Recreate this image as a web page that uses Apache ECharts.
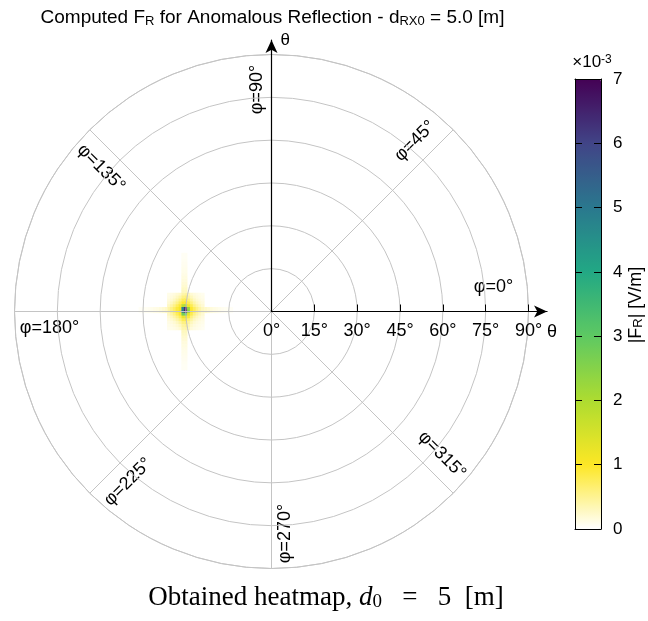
<!DOCTYPE html>
<html>
<head>
<meta charset="utf-8">
<script src="https://cdn.jsdelivr.net/npm/echarts@6/dist/echarts.min.js"></script>
<style>html,body{margin:0;padding:0;background:#fff}#c{width:648px;height:621px}</style>
</head>
<body>
<div id="c"></div>
<script>
// ---------------- data ----------------
const thetaTicks = [0, 15, 30, 45, 60, 75, 90];          // θ tick labels (deg)
const phiLabels = [0, 45, 90, 135, 180, 225, 270, 315];  // φ spoke labels (deg)
const colorbarTicks = [0, 1, 2, 3, 4, 5, 6, 7];          // ×10^-3 V/m

// heat cells: x = θ·cosφ, y = θ·sinφ (deg), values ×10^-3 V/m
const spotX = [-36, -35, -34, -33, -32, -31, -30, -29, -28, -27, -26, -25, -24];
const spotY = [6, 5, 4, 3, 2, 1, 0, -1, -2, -3, -4, -5, -6];
const spotValues = [
  [0.10, 0.12, 0.15, 0.20, 0.25, 0.40, 0.45, 0.30, 0.20, 0.15, 0.12, 0.10, 0.08],
  [0.12, 0.15, 0.20, 0.28, 0.38, 0.55, 0.60, 0.42, 0.30, 0.20, 0.15, 0.12, 0.10],
  [0.15, 0.20, 0.28, 0.40, 0.55, 0.75, 0.80, 0.60, 0.42, 0.28, 0.20, 0.15, 0.12],
  [0.20, 0.28, 0.40, 0.55, 0.75, 0.95, 1.00, 0.80, 0.58, 0.40, 0.28, 0.20, 0.15],
  [0.28, 0.40, 0.55, 0.75, 0.95, 1.80, 2.10, 1.10, 0.80, 0.55, 0.40, 0.28, 0.20],
  [0.40, 0.55, 0.70, 0.90, 1.10, 4.80, 6.90, 2.30, 0.95, 0.75, 0.55, 0.40, 0.30],
  [0.40, 0.55, 0.70, 0.90, 1.10, 5.00, 7.00, 2.50, 0.95, 0.75, 0.55, 0.40, 0.30],
  [0.28, 0.40, 0.55, 0.75, 0.95, 2.70, 3.00, 1.30, 0.80, 0.55, 0.40, 0.28, 0.20],
  [0.20, 0.28, 0.40, 0.55, 0.75, 1.20, 1.30, 0.90, 0.58, 0.40, 0.28, 0.20, 0.15],
  [0.15, 0.20, 0.28, 0.40, 0.55, 0.80, 0.85, 0.60, 0.42, 0.28, 0.20, 0.15, 0.12],
  [0.12, 0.15, 0.20, 0.28, 0.40, 0.58, 0.62, 0.45, 0.30, 0.20, 0.15, 0.12, 0.10],
  [0.10, 0.12, 0.15, 0.20, 0.28, 0.45, 0.48, 0.35, 0.22, 0.15, 0.12, 0.10, 0.08],
  [0.08, 0.10, 0.12, 0.15, 0.20, 0.38, 0.40, 0.28, 0.16, 0.12, 0.10, 0.08, 0.06]
];
// faint streaks leaving the spot (vertical: columns -31,-30; horizontal: rows 1,0)
const streakCols = [-31, -30];
const streakRows = [1, 0];
const streakVerticalY = [7, 8, 9, 10, 11, 12, 13, 14, 15, 16, 17, 18, 19, 20];
const streakVerticalValues = [0.30, 0.26, 0.22, 0.19, 0.16, 0.14, 0.12, 0.10, 0.09, 0.08, 0.07, 0.06, 0.05, 0.05];
const streakLeftX = [-37, -38, -39, -40, -41, -42, -43, -44, -45, -46];
const streakRightX = [-23, -22, -21, -20, -19, -18, -17, -16, -15, -14];
const streakHorizontalValues = [0.25, 0.20, 0.16, 0.13, 0.11, 0.09, 0.07, 0.06, 0.05, 0.04];

const colormap = ['#ffffff', '#fde725', '#addc30', '#5ec962', '#22a884', '#2a788e', '#414487', '#440154'];

// ---------------- layout ----------------
const CX = 271.5, CY = 311.5, R = 257, THETA_MAX = 90;
const pxPerDeg = R / THETA_MAX;
const X_AXIS_MAX = 96.5;
const Y_AXIS_TOP = 40;
const FONT = '"Liberation Sans", Arial, sans-serif';
const SERIF = '"Liberation Serif", "Times New Roman", serif';
const GRID_GRAY = '#c4c4c4';

const heatData = [];
spotY.forEach((y, i) => spotX.forEach((x, j) => heatData.push([x, y, spotValues[i][j]])));
streakVerticalY.forEach((y, k) => streakCols.forEach(x => {
  heatData.push([x, y, streakVerticalValues[k]]);
  heatData.push([x, -y, streakVerticalValues[k]]);
}));
streakHorizontalValues.forEach((v, k) => streakRows.forEach(y => {
  heatData.push([streakLeftX[k], y, v]);
  heatData.push([streakRightX[k], y, v]);
}));

const LABEL_R = 222;
function labelOffset(phi) {
  if (phi === 0) return 24;
  if (phi === 180) return 17;
  if (phi === 90 || phi === 270) return 14;
  return 19;
}
const phiGraphics = phiLabels.map(phi => {
  const a = phi * Math.PI / 180;
  const ux = Math.cos(a), uy = -Math.sin(a);
  const px = Math.cos(a + Math.PI / 2), py = -Math.sin(a + Math.PI / 2);
  let rot = phi % 180; if (rot > 90) rot -= 180;
  const off = labelOffset(phi);
  return {
    type: 'text', silent: true,
    x: CX + LABEL_R * ux + off * px,
    y: CY + LABEL_R * uy + off * py,
    rotation: rot * Math.PI / 180,
    style: { text: 'φ=' + phi + '°', font: '18px ' + FONT, fill: '#000', textAlign: 'center', textVerticalAlign: 'middle' }
  };
});

const blackLine = { color: '#000', width: 1 };

const option = {
  animation: false,
  polar: { center: [CX, CY], radius: R },
  angleAxis: {
    type: 'value', min: 0, max: 360, interval: 45, startAngle: 0, clockwise: false, z: 5,
    axisLine: { show: true, lineStyle: { color: GRID_GRAY, width: 1 } },
    axisTick: { show: false }, axisLabel: { show: false },
    splitLine: { show: true, lineStyle: { color: GRID_GRAY, width: 1 } }
  },
  radiusAxis: {
    type: 'value', min: 0, max: THETA_MAX, interval: 15, z: 5,
    axisLine: { show: false }, axisTick: { show: false }, axisLabel: { show: false },
    splitLine: { show: true, lineStyle: { color: GRID_GRAY, width: 1 } }
  },
  grid: [
    { left: CX - R, top: CY - R, width: 2 * R, height: 2 * R },
    { left: CX, top: Y_AXIS_TOP, width: X_AXIS_MAX * pxPerDeg, height: CY - Y_AXIS_TOP },
    { left: 575, top: 79, width: 26, height: 450 }
  ],
  xAxis: [
    { gridIndex: 0, type: 'value', min: -THETA_MAX, max: THETA_MAX, show: false },
    {
      gridIndex: 1, type: 'value', min: 0, max: X_AXIS_MAX, interval: 15, position: 'bottom', z: 10,
      axisLine: { show: true, onZero: false, symbol: ['none', 'arrow'], symbolSize: [9, 13], lineStyle: { color: '#000', width: 1.2 } },
      axisTick: { show: true, inside: true, length: 7, customValues: thetaTicks.slice(1), lineStyle: blackLine },
      axisLabel: { show: true, margin: 11, customValues: thetaTicks, color: '#000', fontSize: 18, fontFamily: FONT,
        formatter: v => (v % 15 === 0 ? v + '°' : '') },
      splitLine: { show: false },
      name: 'θ', nameLocation: 'end', nameGap: 5,
      nameTextStyle: { color: '#000', fontSize: 18, fontFamily: FONT, align: 'center', verticalAlign: 'top', padding: [12, 0, 0, 0] }
    },
    { gridIndex: 2, type: 'value', min: 0, max: 1, position: 'bottom', z: 10,
      axisLine: { show: true, onZero: false, lineStyle: blackLine }, axisTick: { show: false }, axisLabel: { show: false }, splitLine: { show: false } },
    { gridIndex: 2, type: 'value', min: 0, max: 1, position: 'top', z: 10,
      axisLine: { show: true, onZero: false, lineStyle: blackLine }, axisTick: { show: false }, axisLabel: { show: false }, splitLine: { show: false } }
  ],
  yAxis: [
    { gridIndex: 0, type: 'value', min: -THETA_MAX, max: THETA_MAX, show: false },
    {
      gridIndex: 1, type: 'value', min: 0, max: 1, position: 'left', z: 10,
      axisLine: { show: true, onZero: false, symbol: ['none', 'arrow'], symbolSize: [9, 13], lineStyle: { color: '#000', width: 1.2 } },
      axisTick: { show: false }, axisLabel: { show: false }, splitLine: { show: false },
      name: 'θ', nameLocation: 'end', nameGap: 0,
      nameTextStyle: { color: '#000', fontSize: 17, fontFamily: FONT, align: 'left', verticalAlign: 'middle', padding: [0, 0, 0, 9] }
    },
    { gridIndex: 2, type: 'value', min: 0, max: 7, interval: 1, position: 'left', z: 10,
      axisLine: { show: true, onZero: false, lineStyle: blackLine },
      axisTick: { show: true, inside: true, length: 7, lineStyle: blackLine },
      axisLabel: { show: false }, splitLine: { show: false } },
    { gridIndex: 2, type: 'value', min: 0, max: 7, interval: 1, position: 'right', z: 10,
      axisLine: { show: true, onZero: false, lineStyle: blackLine },
      axisTick: { show: true, inside: true, length: 7, lineStyle: blackLine },
      axisLabel: { show: true, margin: 12, color: '#000', fontSize: 17, fontFamily: FONT,
        customValues: colorbarTicks },
      splitLine: { show: false } }
  ],
  visualMap: {
    type: 'continuous', min: 0, max: 7, dimension: 2, seriesIndex: 0,
    calculable: false, hoverLink: false, orient: 'vertical',
    itemWidth: 26, itemHeight: 450, left: 575, top: 79, padding: 0,
    showLabel: false, text: null,
    inRange: { color: colormap }
  },
  series: [{
    type: 'scatter', xAxisIndex: 0, yAxisIndex: 0, data: heatData,
    symbol: 'rect', symbolSize: pxPerDeg + 0.4, silent: true, z: 1,
    itemStyle: { opacity: 1 }
  }],
  graphic: [
    {
      type: 'text', silent: true, x: CX + 1, y: 18,
      style: {
        text: '{m|Computed F}{s|R}{m| for Anomalous Reflection - d}{s|RX0}{m| = 5.0 [m]}',
        textAlign: 'center', textVerticalAlign: 'middle', fill: '#000',
        rich: {
          m: { fontSize: 19, fontFamily: FONT, lineHeight: 19, verticalAlign: 'top', padding: [0, 0, 5, 0], fill: '#000' },
          s: { fontSize: 13, fontFamily: FONT, lineHeight: 13, verticalAlign: 'bottom', fill: '#000' }
        }
      }
    },
    {
      type: 'text', silent: true, x: 592, y: 62,
      style: {
        text: '{m|×10}{p|-3}',
        textAlign: 'center', textVerticalAlign: 'middle', fill: '#000',
        rich: {
          m: { fontSize: 17, fontFamily: FONT, lineHeight: 17, verticalAlign: 'bottom', padding: [5, 0, 0, 0], fill: '#000' },
          p: { fontSize: 12, fontFamily: FONT, lineHeight: 12, verticalAlign: 'top', fill: '#000' }
        }
      }
    },
    {
      type: 'text', silent: true, x: 636, y: 305, rotation: Math.PI / 2,
      style: {
        text: '{m||F}{s|R}{m|| [V/m]}',
        textAlign: 'center', textVerticalAlign: 'middle', fill: '#000',
        rich: {
          m: { fontSize: 18, fontFamily: FONT, lineHeight: 18, verticalAlign: 'top', padding: [0, 0, 5, 0], fill: '#000' },
          s: { fontSize: 13, fontFamily: FONT, lineHeight: 13, verticalAlign: 'bottom', fill: '#000' }
        }
      }
    },
    {
      type: 'text', silent: true, x: 326, y: 598,
      style: {
        text: '{m|Obtained heatmap, }{i|d}{s|0}{m|   =   5  [m]}',
        textAlign: 'center', textVerticalAlign: 'middle', fill: '#000',
        rich: {
          m: { fontSize: 27, fontFamily: SERIF, lineHeight: 27, verticalAlign: 'top', padding: [0, 0, 5, 0], fill: '#000' },
          i: { fontSize: 27, fontFamily: SERIF, fontStyle: 'italic', lineHeight: 27, verticalAlign: 'top', padding: [0, 0, 5, 0], fill: '#000' },
          s: { fontSize: 19, fontFamily: SERIF, lineHeight: 19, verticalAlign: 'bottom', fill: '#000' }
        }
      }
    }
  ].concat(phiGraphics)
};

const chart = echarts.init(document.getElementById('c'), null, { renderer: 'canvas' });
chart.setOption(option);
</script>
</body>
</html>
